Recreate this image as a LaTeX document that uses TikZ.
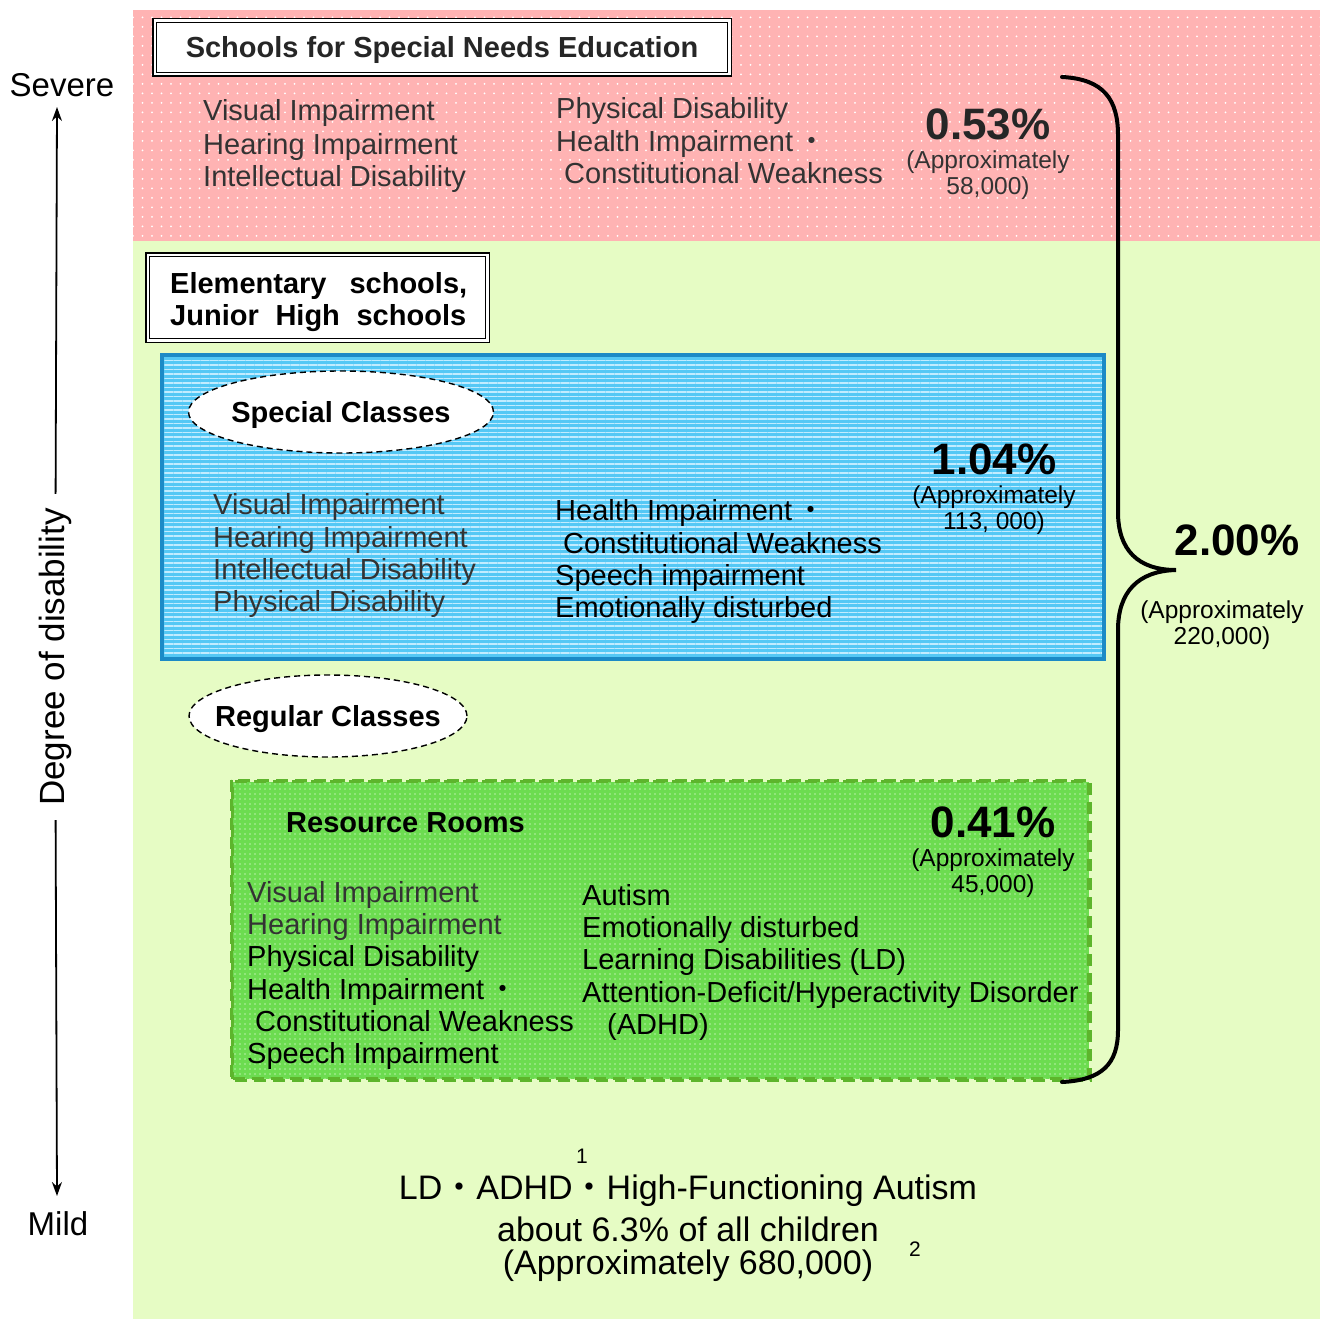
\documentclass[tikz,border=0pt]{standalone}
\usepackage{fontspec}
\setmainfont{Liberation Sans}
\newfontfamily\cjk{Noto Sans CJK JP}
\usetikzlibrary{shapes.geometric,patterns.meta,arrows.meta}

\definecolor{pinkbg}{HTML}{FFB3B3}
\definecolor{greenbg}{HTML}{E6FCC4}
\definecolor{bluefill}{HTML}{55C8F5}
\definecolor{bluestripe}{HTML}{C2ECFF}
\definecolor{blueedge}{HTML}{1C8AC6}
\definecolor{greenfill}{HTML}{6CDC50}
\definecolor{greendot}{HTML}{B8F0A8}
\definecolor{greenedge}{HTML}{5DB52C}
\definecolor{ink}{HTML}{333333}

\newcommand{\kdot}{{\cjk ・}}
% centre the capitals of a label on the node centre
\newcommand{\capmid}[1]{\raisebox{-10.4pt}[0pt][0pt]{\makebox[0pt]{#1}}}

\tikzset{
  body/.style={font=\fontsize{29}{32}\selectfont, inner sep=0pt, anchor=base west, text=black},
  grey/.style={body, text=ink},
  heading/.style={font=\fontsize{29}{32}\selectfont\bfseries, inner sep=0pt},
  pct/.style={font=\fontsize{44}{48}\selectfont\bfseries, inner sep=0pt},
  approx/.style={font=\fontsize{24.5}{27}\selectfont, inner sep=0pt},
  dblbox/.style={draw, double, double distance=2.4pt, line width=1.5pt, fill=white},
  classoval/.style={ellipse, draw, dashed, dash pattern=on 6pt off 4pt, line width=1.4pt,
    fill=white, heading, inner sep=0pt},
  axis/.style={font=\fontsize{33}{36}\selectfont, inner sep=0pt},
  note/.style={font=\fontsize{34}{38}\selectfont, inner sep=0pt},
}

\begin{document}
\begin{tikzpicture}[x=1pt,y=-1pt]
\useasboundingbox (0,0) rectangle (1322,1319);
\fill[white] (0,0) rectangle (1322,1319);

% background bands
\fill[pinkbg] (133,10) rectangle (1320,241);
\fill[pattern={Dots[distance=9.5pt,radius=1pt]}, pattern color=white] (133,10) rectangle (1320,241);
\fill[greenbg] (133,241) rectangle (1320,1319);

% degree axis
\node[axis] (severe) at (62,85) {Severe};
\node[axis] (mild) at (58,1224) {Mild};
\node[font=\fontsize{35}{40}\selectfont, rotate=90, inner xsep=14pt, inner ysep=0pt] (degree) at (55,657) {Degree of disability};
\coordinate (axtop) at (57,107);
\coordinate (axbot) at (57,1196);
\draw[line width=1.8pt, -{Stealth[length=14pt,width=10pt]}] (degree) -- (axtop);
\draw[line width=1.8pt, -{Stealth[length=14pt,width=10pt]}] (degree) -- (axbot);

% schools for special needs education
\node[dblbox, heading, minimum width=574.6, minimum height=53.6, text=black!85] (ssne) at (442,47.5)
  {\capmid{Schools for Special Needs Education}};
\node[grey] (p1) at (203,121) {Visual Impairment};
\node[grey] (p2) at (203,154) {Hearing Impairment};
\node[grey] (p3) at (203,186) {Intellectual Disability};
\node[grey] (p4) at (556,119) {Physical Disability};
\node[grey] (p5) at (556,151) {Health Impairment\,\kdot};
\node[grey] (p6) at (564,183) {Constitutional Weakness};
\node[pct, text=black!85] (pct1) at (988,124) {0.53\%};
\node[approx, text=black!80] (ap1a) at (988,162) {(Approximately};
\node[approx, text=black!80] (ap1b) at (988,188) {58,000)};

% elementary and junior high schools
\node[dblbox, minimum width=339.6, minimum height=85.6] (elem) at (317.5,297.5) {};
\node[heading, anchor=base west] (elem1) at (170,293.5) {\makebox[297pt][s]{Elementary schools,}};
\node[heading, anchor=base west] (elem2) at (170,325.5) {\makebox[296pt][s]{Junior High schools}};

% special classes
\node[draw=blueedge, line width=3pt, minimum width=941, minimum height=303,
  preaction={fill=bluefill},
  pattern={Lines[angle=0,distance=4.5pt,line width=1.6pt]}, pattern color=bluestripe] (special) at (633,507) {};
\draw[blueedge, line width=3pt] (special.north west) rectangle (special.south east);
\node[classoval, minimum width=305, minimum height=82] (spoval) at (341,412) {\capmid{Special Classes}};
\node[grey] (s1) at (213,514) {Visual Impairment};
\node[grey] (s2) at (213,547) {Hearing Impairment};
\node[grey] (s3) at (213,579) {Intellectual Disability};
\node[grey] (s4) at (213,611) {Physical Disability};
\node[body] (s5) at (555,520) {Health Impairment\,\kdot};
\node[body] (s6) at (563,553) {Constitutional Weakness};
\node[body] (s7) at (555,585) {Speech impairment};
\node[body] (s8) at (555,617) {Emotionally disturbed};
\node[pct] (pct2) at (994,459) {1.04\%};
\node[approx] (ap2a) at (994,497) {(Approximately};
\node[approx] (ap2b) at (994,523) {113, 000)};

% regular classes
\node[classoval, minimum width=278, minimum height=82] (regoval) at (328,716) {\capmid{Regular Classes}};

% resource rooms
\node[draw=greenedge, line width=3pt, dash pattern=on 12pt off 7pt, minimum width=856, minimum height=297,
  preaction={fill=greenfill},
  pattern={Dots[distance=5pt,radius=0.9pt]}, pattern color=greendot] (resource) at (660.5,930) {};
\draw[greenedge, line width=3pt, dash pattern=on 12pt off 7pt] (resource.north west) rectangle (resource.south east);
\node[heading, anchor=base west] (rrtitle) at (286,832) {Resource Rooms};
\node[grey] (r1) at (247,902) {Visual Impairment};
\node[grey] (r2) at (247,934) {Hearing Impairment};
\node[body] (r3) at (247,966) {Physical Disability};
\node[body] (r4) at (247,999) {Health Impairment\,\kdot};
\node[body] (r5) at (255,1031) {Constitutional Weakness};
\node[body] (r6) at (247,1063) {Speech Impairment};
\node[body] (r7) at (582,905) {Autism};
\node[body] (r8) at (582,937) {Emotionally disturbed};
\node[body] (r9) at (582,969) {Learning Disabilities (LD)};
\node[body] (r10) at (582,1002) {Attention-Deficit/Hyperactivity Disorder};
\node[body] (r11) at (607,1034) {(ADHD)};
\node[pct] (pct3) at (993,822) {0.41\%};
\node[approx] (ap3a) at (993,860) {(Approximately};
\node[approx] (ap3b) at (993,886) {45,000)};

% overall brace
\draw[line width=4pt, line cap=round]
  (1062,77) .. controls (1104,79) and (1118,100) .. (1118,135)
  -- (1118,512) .. controls (1118,550) and (1138,570) .. (1176,570)
  .. controls (1138,571) and (1118,592) .. (1118,630)
  -- (1118,1030) .. controls (1118,1064) and (1102,1080) .. (1062,1082);
\node[pct] (pct4) at (1237,540) {2.00\%};
\node[approx] (ap4a) at (1222,612) {(Approximately};
\node[approx] (ap4b) at (1222,638) {220,000)};

% note at the bottom
\node[note] (n1) at (688,1191) {LD\kdot ADHD\kdot High-Functioning Autism};
\node[note] (n2) at (688,1229) {about 6.3\% of all children};
\node[note] (n3) at (688,1266) {(Approximately 680,000)};
\node[font=\fontsize{21}{24}\selectfont, inner sep=0pt] (f1) at (582,1156) {1};
\node[font=\fontsize{21}{24}\selectfont, inner sep=0pt] (f2) at (915,1249) {2};
\end{tikzpicture}
\end{document}
